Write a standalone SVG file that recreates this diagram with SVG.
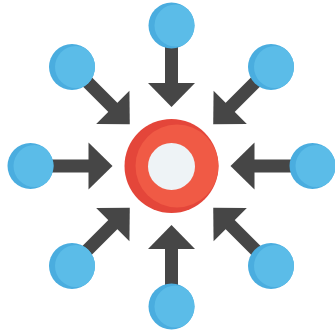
<svg xmlns="http://www.w3.org/2000/svg" xmlns:xlink="http://www.w3.org/1999/xlink" width="335" height="333" viewBox="0 0 335 333">
<style>
.arrow{fill:#464646}
.bdark{fill:#4aaddf}
.blight{fill:#5bbce8}
</style>
<defs>
<g id="arr"><rect x="165" y="44" width="13" height="41"/><polygon points="148,83 195,83 171.5,107"/></g>
<clipPath id="cb"><circle r="23" cx="0" cy="0"/></clipPath>
<g id="blue"><circle class="bdark" r="23" cx="0" cy="0"/><circle class="blight" r="21" cx="4" cy="0" clip-path="url(#cb)"/></g>
</defs>
<rect width="335" height="333" fill="#ffffff"/>
<g id="connectors" class="arrow">
<use href="#arr"/>
<use href="#arr" transform="rotate(45 171.5 166)"/>
<use href="#arr" transform="rotate(90 171.5 166)"/>
<use href="#arr" transform="rotate(135 171.5 166)"/>
<use href="#arr" transform="rotate(180 171.5 166)"/>
<use href="#arr" transform="rotate(225 171.5 166)"/>
<use href="#arr" transform="rotate(270 171.5 166)"/>
<use href="#arr" transform="rotate(315 171.5 166)"/>
</g>
<g id="center">
<circle cx="171.5" cy="166" r="47" fill="#e4463a"/>
<circle cx="177" cy="166" r="41.5" fill="#f05a45"/>
<circle cx="171.5" cy="166.5" r="23.5" fill="#eef3f6"/>
</g>
<g id="n-top"><use href="#blue" transform="translate(171.5 25.5)"/></g>
<g id="n-topright"><use href="#blue" transform="translate(271 67)"/></g>
<g id="n-right"><use href="#blue" transform="translate(312.5 166)"/></g>
<g id="n-bottomright"><use href="#blue" transform="translate(271 266)"/></g>
<g id="n-bottom"><use href="#blue" transform="translate(171.5 306.5)"/></g>
<g id="n-bottomleft"><use href="#blue" transform="translate(72 266)"/></g>
<g id="n-left"><use href="#blue" transform="translate(30.5 166)"/></g>
<g id="n-topleft"><use href="#blue" transform="translate(72 67)"/></g>
</svg>
